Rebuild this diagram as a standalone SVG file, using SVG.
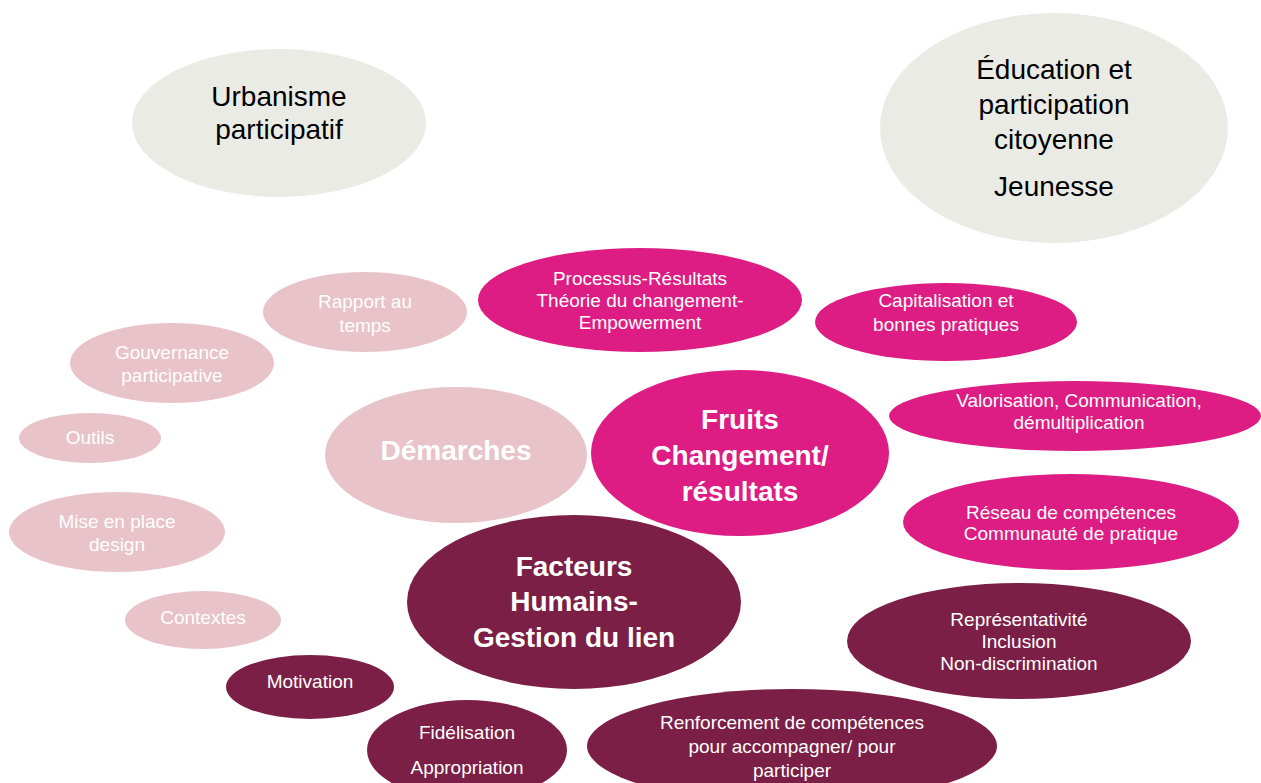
<svg xmlns="http://www.w3.org/2000/svg" width="1261" height="783" viewBox="0 0 1261 783">
<style>
.gray{fill:#ebebe6}
.light{fill:#e8c3c9}
.mag{fill:#dd1c84}
.dark{fill:#7b1f47}
text{font-family:"Liberation Sans",Arial,sans-serif;text-anchor:middle}
.big{font-size:28px;fill:#000}
.bold{font-size:28px;font-weight:bold;fill:#fff}
.sm{font-size:19px;fill:#fff}
</style>
<rect width="1261" height="783" fill="#fff"/>
<g id="urbanisme">
<ellipse class="gray" cx="279" cy="123" rx="147" ry="74"/>
<text class="big" x="279" y="106">Urbanisme</text>
<text class="big" x="279" y="139">participatif</text>
</g>
<g id="education">
<ellipse class="gray" cx="1054" cy="128" rx="174" ry="115"/>
<text class="big" x="1054" y="79">Éducation et</text>
<text class="big" x="1054" y="114">participation</text>
<text class="big" x="1054" y="149">citoyenne</text>
<text class="big" x="1054" y="196">Jeunesse</text>
</g>
<g id="rapport">
<ellipse class="light" cx="365" cy="312" rx="102" ry="40"/>
<text class="sm" x="365" y="308">Rapport au</text>
<text class="sm" x="365" y="332">temps</text>
</g>
<g id="gouvernance">
<ellipse class="light" cx="172" cy="363" rx="102" ry="40"/>
<text class="sm" x="172" y="359">Gouvernance</text>
<text class="sm" x="172" y="382">participative</text>
</g>
<g id="outils">
<ellipse class="light" cx="90" cy="438" rx="71" ry="25"/>
<text class="sm" x="90" y="444">Outils</text>
</g>
<g id="mise">
<ellipse class="light" cx="117" cy="532" rx="108" ry="40"/>
<text class="sm" x="117" y="528">Mise en place</text>
<text class="sm" x="117" y="551">design</text>
</g>
<g id="contextes">
<ellipse class="light" cx="203" cy="620" rx="78" ry="29"/>
<text class="sm" x="203" y="624">Contextes</text>
</g>
<g id="motivation">
<ellipse class="dark" cx="310" cy="687" rx="84" ry="32"/>
<text class="sm" x="310" y="688">Motivation</text>
</g>
<g id="fidelisation">
<ellipse class="dark" cx="467" cy="750" rx="100" ry="50"/>
<text class="sm" x="467" y="739">Fidélisation</text>
<text class="sm" x="467" y="774">Appropriation</text>
</g>
<g id="demarches">
<ellipse class="light" cx="456" cy="455" rx="131" ry="68"/>
<text class="bold" x="456" y="460">Démarches</text>
</g>
<g id="fruits">
<ellipse class="mag" cx="740" cy="453" rx="149" ry="83"/>
<text class="bold" x="740" y="429">Fruits</text>
<text class="bold" x="740" y="465">Changement/</text>
<text class="bold" x="740" y="501">résultats</text>
</g>
<g id="facteurs">
<ellipse class="dark" cx="574" cy="602" rx="167" ry="87"/>
<text class="bold" x="574" y="576">Facteurs</text>
<text class="bold" x="574" y="611">Humains-</text>
<text class="bold" x="574" y="647">Gestion du lien</text>
</g>
<g id="processus">
<ellipse class="mag" cx="640" cy="300" rx="162" ry="52"/>
<text class="sm" x="640" y="285">Processus-Résultats</text>
<text class="sm" x="640" y="307">Théorie du changement-</text>
<text class="sm" x="640" y="329">Empowerment</text>
</g>
<g id="capitalisation">
<ellipse class="mag" cx="946" cy="322" rx="131" ry="39"/>
<text class="sm" x="946" y="307">Capitalisation et</text>
<text class="sm" x="946" y="331">bonnes pratiques</text>
</g>
<g id="valorisation">
<ellipse class="mag" cx="1075" cy="416" rx="186" ry="35"/>
<text class="sm" x="1079" y="407">Valorisation, Communication,</text>
<text class="sm" x="1079" y="429">démultiplication</text>
</g>
<g id="reseau">
<ellipse class="mag" cx="1071" cy="522" rx="168" ry="48"/>
<text class="sm" x="1071" y="519">Réseau de compétences</text>
<text class="sm" x="1071" y="540">Communauté de pratique</text>
</g>
<g id="representativite">
<ellipse class="dark" cx="1019" cy="641" rx="172" ry="58"/>
<text class="sm" x="1019" y="626">Représentativité</text>
<text class="sm" x="1019" y="648">Inclusion</text>
<text class="sm" x="1019" y="670">Non-discrimination</text>
</g>
<g id="renforcement">
<ellipse class="dark" cx="792" cy="746" rx="205" ry="57"/>
<text class="sm" x="792" y="729">Renforcement de compétences</text>
<text class="sm" x="792" y="753">pour accompagner/ pour</text>
<text class="sm" x="792" y="777">participer</text>
</g>
<g id="connectors"/>
</svg>
